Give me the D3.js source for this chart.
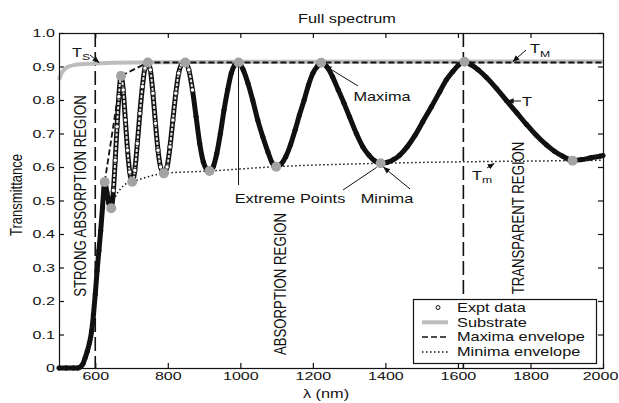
<!DOCTYPE html>
<html>
<head>
<meta charset="utf-8">
<script src="https://cdn.jsdelivr.net/npm/d3@7"></script>
<style>
body { margin: 0; background: #fff; }
svg { display: block; font-family: "Liberation Sans", Arial, sans-serif; }
</style>
</head>
<body>
<div id="chart"></div>
<script>
// expt data
const wavelength = [500, 520, 540, 552, 560, 566, 572, 578, 584, 590, 595, 600, 605, 610, 615, 620, 626, 632, 638, 644,
  650, 655, 660, 665, 671, 677, 683, 689, 695, 702, 709, 716, 723, 730, 737, 745, 752, 759, 766, 773, 780, 789,
  798, 806, 814, 822, 830, 838, 848, 858, 868, 878, 888, 898, 906, 915, 925, 935, 945, 955, 965, 975, 985, 995,
  1008, 1021, 1034, 1048, 1062, 1076, 1088, 1099, 1112, 1125, 1138, 1151, 1163, 1176, 1188, 1200, 1212, 1223,
  1238, 1254, 1270, 1286, 1301, 1320, 1338, 1355, 1371, 1387, 1405, 1422, 1439, 1460, 1482, 1503, 1527, 1550,
  1568, 1586, 1602, 1618, 1635, 1656, 1678, 1706, 1734, 1762, 1789, 1816, 1844, 1866, 1889, 1916, 1940, 1965, 1991, 2000];
const transmittance = [0, 0, 0, 0, 0.004, 0.012, 0.03, 0.05, 0.075, 0.11, 0.16, 0.22, 0.29, 0.35, 0.41, 0.48, 0.555, 0.525, 0.49, 0.477,
  0.53, 0.62, 0.72, 0.81, 0.872, 0.83, 0.74, 0.65, 0.585, 0.556, 0.59, 0.67, 0.76, 0.84, 0.895, 0.912, 0.89, 0.82, 0.73, 0.65, 0.6, 0.581,
  0.6, 0.66, 0.74, 0.82, 0.88, 0.905, 0.912, 0.89, 0.83, 0.75, 0.67, 0.615, 0.595, 0.588, 0.6, 0.64, 0.7, 0.77, 0.83, 0.88, 0.905, 0.912,
  0.89, 0.85, 0.8, 0.74, 0.69, 0.645, 0.612, 0.601, 0.608, 0.63, 0.665, 0.71, 0.755, 0.8, 0.845, 0.88, 0.9, 0.911,
  0.9, 0.87, 0.83, 0.79, 0.75, 0.7, 0.66, 0.635, 0.618, 0.611, 0.614, 0.622, 0.635, 0.66, 0.695, 0.735, 0.78, 0.825,
  0.86, 0.885, 0.905, 0.914, 0.906, 0.89, 0.868, 0.835, 0.798, 0.762, 0.727, 0.695, 0.666, 0.647, 0.632, 0.62, 0.622, 0.627, 0.632, 0.634];

// substrate
const subWavelength = [500, 505, 512, 520, 530, 545, 560, 580, 600, 650, 700, 800, 1000, 2000];
const subTransmittance = [0.86, 0.875, 0.888, 0.896, 0.901, 0.905, 0.907, 0.908, 0.909, 0.911, 0.912, 0.913, 0.914, 0.915];

// envelopes
const maxEnvWavelength = [626, 671, 745, 2000];
const maxEnvTransmittance = [0.555, 0.872, 0.912, 0.912];
const minEnvWavelength = [644, 655, 670, 685, 702, 789, 915, 1099, 1387, 1916, 2000];
const minEnvTransmittance = [0.477, 0.51, 0.535, 0.55, 0.556, 0.581, 0.588, 0.601, 0.611, 0.619, 0.62];

// extreme points
const extremeWavelength = [626, 644, 671, 702, 745, 789, 848, 915, 995, 1099, 1223, 1387, 1618, 1916];
const extremeTransmittance = [0.555, 0.477, 0.872, 0.556, 0.912, 0.581, 0.912, 0.588, 0.912, 0.601, 0.911, 0.611, 0.914, 0.619];

// region boundaries
const boundaries = [600, 1615];

const xTicks = [600, 800, 1000, 1200, 1400, 1600, 1800, 2000];
const yTicks = [0, 0.1, 0.2, 0.3, 0.4, 0.5, 0.6, 0.7, 0.8, 0.9, 1.0];
const yTickLabels = ["0", "0.1", "0.2", "0.3", "0.4", "0.5", "0.6", "0.7", "0.8", "0.9", "1.0"];

const legendLabels = ["Expt data", "Substrate", "Maxima envelope", "Minima envelope"];

let width = 619, height = 403;
let margin = {top: 33, left: 59, right: 16, bottom: 35};
let chartWidth = width - margin.left - margin.right;
let chartHeight = height - margin.top - margin.bottom;
const sx = 1.36; // text looks stretched sideways

let svg = d3.select("#chart").append("svg")
  .attr("width", width)
  .attr("height", height);

let defs = svg.append("defs");
defs.append("marker")
  .attr("id", "arrow")
  .attr("viewBox", "0 0 10 10")
  .attr("refX", 9).attr("refY", 5)
  .attr("markerWidth", 7).attr("markerHeight", 7)
  .attr("markerUnits", "userSpaceOnUse")
  .attr("orient", "auto")
  .append("path").attr("d", "M0,1 L10,5 L0,9 Z").attr("fill", "#111");

let g = svg.append("g").attr("transform", `translate(${margin.left}, ${margin.top})`);

let x = d3.scaleLinear().domain([500, 2000]).range([0, chartWidth]);
let y = d3.scaleLinear().domain([0, 1]).range([chartHeight, 0]);

// axes, ticks pointing inward
function styleTicks(sel) {
  sel.select(".domain").remove();
  sel.selectAll("line").attr("stroke", "#111").attr("stroke-width", 1.2);
  sel.selectAll("text").attr("font-size", 11.8).attr("fill", "#111")
    .attr("font-family", "Liberation Sans, Arial, sans-serif")
    .attr("transform", `scale(${sx},1)`);
}
let xAxisG = g.append("g").attr("transform", `translate(0,${chartHeight})`)
  .call(d3.axisBottom(x).tickValues(xTicks).tickSize(-5).tickPadding(4).tickFormat(d3.format("d")))
  .call(styleTicks);
// the last label sits a little inside, as in the original
xAxisG.selectAll(".tick").filter(d => d === 2000).select("text").attr("x", -3 / sx);

g.append("g")
  .call(d3.axisTop(x).tickValues(xTicks).tickSize(-5).tickFormat(""))
  .call(styleTicks);
g.append("g")
  .call(d3.axisLeft(y).tickValues(yTicks).tickSize(-5).tickPadding(3).tickFormat((d, i) => yTickLabels[i]))
  .call(styleTicks);
g.append("g").attr("transform", `translate(${chartWidth},0)`)
  .call(d3.axisRight(y).tickValues(yTicks).tickSize(-5).tickFormat(""))
  .call(styleTicks);

// region boundaries
g.selectAll(".boundary").data(boundaries).enter().append("line")
  .attr("class", "boundary")
  .attr("x1", d => x(d)).attr("x2", d => x(d))
  .attr("y1", 0).attr("y2", chartHeight)
  .attr("stroke", "#111").attr("stroke-width", 1.6)
  .attr("stroke-dasharray", "14,5");

// substrate
g.append("path")
  .datum(d3.zip(subWavelength, subTransmittance))
  .attr("d", d3.line().x(d => x(d[0])).y(d => y(d[1])).curve(d3.curveMonotoneX))
  .attr("fill", "none").attr("stroke", "#bdbdbd").attr("stroke-width", 4);

// maxima envelope
g.append("path")
  .datum(d3.zip(maxEnvWavelength, maxEnvTransmittance))
  .attr("d", d3.line().x(d => x(d[0])).y(d => y(d[1])))
  .attr("fill", "none").attr("stroke", "#111").attr("stroke-width", 1.8)
  .attr("stroke-dasharray", "6,3");

// minima envelope
g.append("path")
  .datum(d3.zip(minEnvWavelength, minEnvTransmittance))
  .attr("d", d3.line().x(d => x(d[0])).y(d => y(d[1])).curve(d3.curveMonotoneX))
  .attr("fill", "none").attr("stroke", "#111").attr("stroke-width", 1.5)
  .attr("stroke-dasharray", "1.5,2.5");

// expt data
let expt = d3.zip(wavelength, transmittance);
let tLine = d3.line().x(d => x(d[0])).y(d => y(d[1])).curve(d3.curveMonotoneX);
g.append("path").datum(expt).attr("d", tLine)
  .attr("fill", "none").attr("stroke", "#111").attr("stroke-width", 5);
// the short-wave part shows as hollow circles
g.append("path").datum(expt.filter(d => d[0] >= 646 && d[0] <= 870)).attr("d", tLine)
  .attr("fill", "none").attr("stroke", "#e6e6e6").attr("stroke-width", 2)
  .attr("stroke-dasharray", "3,1.5");
g.selectAll(".expt").data(expt).enter().append("circle")
  .attr("class", "expt")
  .attr("cx", d => x(d[0])).attr("cy", d => y(d[1]))
  .attr("r", 2.2)
  .attr("fill", d => (d[0] >= 646 && d[0] <= 870) ? "#fff" : "#111")
  .attr("stroke", "#111").attr("stroke-width", 0.9);

// extreme points
g.selectAll(".extreme").data(d3.zip(extremeWavelength, extremeTransmittance)).enter().append("circle")
  .attr("class", "extreme")
  .attr("cx", d => x(d[0])).attr("cy", d => y(d[1]))
  .attr("r", 5)
  .attr("fill", "#a3a3a3");

// frame
g.append("rect").attr("width", chartWidth).attr("height", chartHeight)
  .attr("x", 0.5).attr("y", 0.5)
  .attr("fill", "none").attr("stroke", "#111").attr("stroke-width", 1.2);

// text helpers
function label(px, py, txt, size, anchor) {
  return svg.append("text")
    .attr("transform", `translate(${px},${py}) scale(${sx},1)`)
    .attr("font-size", size).attr("fill", "#111")
    .attr("text-anchor", anchor || "start")
    .text(txt);
}
function vlabel(px, py, txt, size) {
  return svg.append("text")
    .attr("transform", `translate(${px},${py}) rotate(-90) scale(1,1.3)`)
    .attr("font-size", size).attr("fill", "#111")
    .attr("text-anchor", "middle").attr("dy", "0.35em")
    .text(txt);
}
function arrow(x1, y1, x2, y2, head) {
  let l = svg.append("line")
    .attr("x1", x1).attr("y1", y1).attr("x2", x2).attr("y2", y2)
    .attr("stroke", "#111").attr("stroke-width", 1);
  if (head) l.attr("marker-end", "url(#arrow)");
  return l;
}
const X = d => margin.left + x(d);
const Y = d => margin.top + y(d);

// titles
label(347, 23, "Full spectrum", 12, "middle");
label(326, 398, "λ (nm)", 12, "middle");
svg.append("text")
  .attr("transform", "translate(16,195) rotate(-90) scale(1,1.3)")
  .attr("font-size", 13).attr("fill", "#111")
  .attr("text-anchor", "middle").attr("dy", "0.35em")
  .text("Transmittance");

// region labels
vlabel(80, 196, "STRONG ABSORPTION REGION", 13.2);
vlabel(280, 284, "ABSORPTION REGION", 13.2);
vlabel(518, 218, "TRANSPARENT REGION", 13.2);

// subscripted labels
let ts = label(72, 57, "T", 12);
ts.append("tspan").attr("dy", 3).attr("font-size", 9).text("S");
arrow(90, 55, X(610), Y(0.909) - 1, true);

let tM = label(530, 53, "T", 12);
tM.append("tspan").attr("dy", 4).attr("font-size", 9).text("M");
arrow(526, 50, 513, Y(0.912) - 1, true);

let tm = label(472, 180, "T", 12);
tm.append("tspan").attr("dy", 3).attr("font-size", 9).text("m");
arrow(487, 168, 494, Y(0.616) + 2, true);

label(522, 106, "T", 12);
arrow(521, 101, X(1728) + 3, 101, true);

// maxima / minima / extreme points
label(382, 101, "Maxima", 12, "middle");
arrow(358, 86, X(1223) + 4, Y(0.911) + 3, true);

label(387, 203, "Minima", 12, "middle");
arrow(410, 189, X(1387) + 3, Y(0.611) + 4, true);

label(290, 203, "Extreme Points", 12, "middle");
arrow(X(995), 185, X(995), Y(0.912) + 4, false);
arrow(343, 190, X(1387) - 4, Y(0.611) + 4, false);

// legend
let legend = svg.append("g").attr("transform", "translate(413,299)");
legend.append("rect").attr("width", 183).attr("height", 64)
  .attr("x", 0.5).attr("y", 0.5)
  .attr("fill", "#fff").attr("stroke", "#111").attr("stroke-width", 1.2);
legendLabels.forEach((name, i) => {
  let cy = 8.5 + i * 14.8;
  if (i === 0) {
    legend.append("circle").attr("cx", 25).attr("cy", cy).attr("r", 2)
      .attr("fill", "none").attr("stroke", "#111").attr("stroke-width", 1);
  } else {
    let ln = legend.append("line").attr("x1", 9).attr("x2", 35).attr("y1", cy).attr("y2", cy);
    if (i === 1) ln.attr("stroke", "#bdbdbd").attr("stroke-width", 4);
    if (i === 2) ln.attr("stroke", "#111").attr("stroke-width", 1.5).attr("stroke-dasharray", "6,3");
    if (i === 3) ln.attr("stroke", "#111").attr("stroke-width", 1.5).attr("stroke-dasharray", "1.5,2.5");
  }
  legend.append("text")
    .attr("transform", `translate(44,${cy + 4.3}) scale(${sx},1)`)
    .attr("font-size", 12).attr("fill", "#111")
    .text(name);
});
</script>
</body>
</html>
